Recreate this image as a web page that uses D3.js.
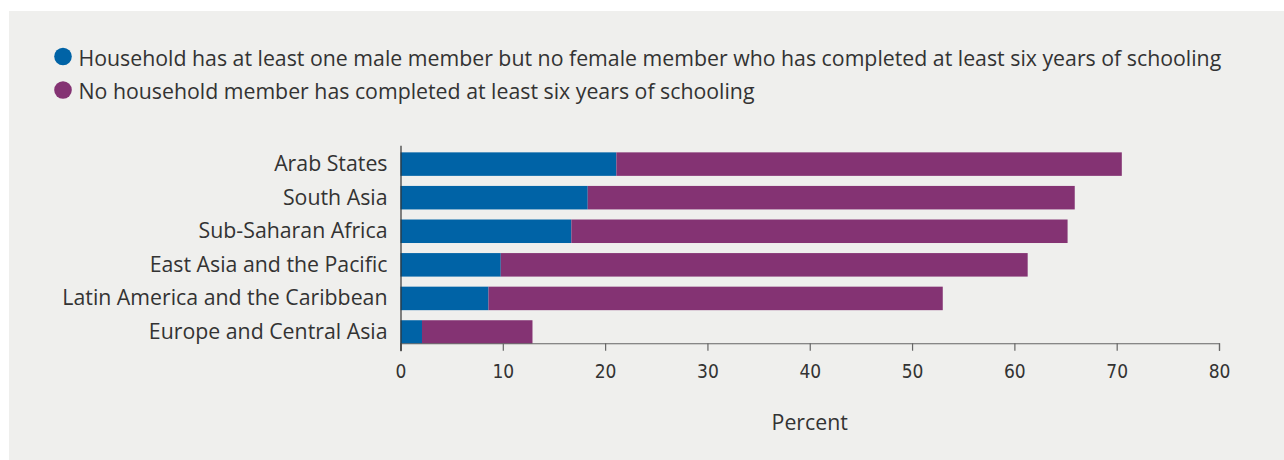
<!DOCTYPE html>
<html>
<head>
<meta charset="utf-8">
<script src="https://cdn.jsdelivr.net/npm/d3@7"></script>
<style>
  body { margin: 0; background: #fff; }
  svg text { fill: #333; }
  .lbl { font-family: "Open Sans", sans-serif; font-size: 21.3px; }
  .tick text.num { font-family: "DejaVu Sans Condensed", "DejaVu Sans", sans-serif; font-stretch: condensed; font-size: 19px; fill: #333; }
</style>
</head>
<body>
<div id="chart"></div>
<script>
// Data
const regions = ["Arab States", "South Asia", "Sub-Saharan Africa", "East Asia and the Pacific", "Latin America and the Caribbean", "Europe and Central Asia"];
const maleOnly = [21.1, 18.3, 16.7, 9.8, 8.6, 2.1];       // blue segment
const noMember = [49.4, 47.6, 48.5, 51.5, 44.4, 10.8];    // purple segment
const xTicks = [0, 10, 20, 30, 40, 50, 60, 70, 80];
const seriesNames = [
  "Household has at least one male member but no female member who has completed at least six years of schooling",
  "No household member has completed at least six years of schooling"
];
const colors = ["#0063a6", "#843373"];

const W = 1284, H = 460;
const svg = d3.select('#chart').append('svg').attr('width', W).attr('height', H);

svg.append('rect').attr('x', 9).attr('y', 11).attr('width', W - 9).attr('height', H - 11).attr('fill', '#efefed');

const x = d3.scaleLinear().domain([0, 80]).range([400.5, 1219]);
const y = d3.scaleBand().domain(regions).range([145.3, 350.8]).paddingInner(0.3).paddingOuter(0.21);

const rows = regions.map((r, i) => ({ region: r, a: maleOnly[i], b: noMember[i] }));

// bars
const g = svg.append('g');
g.selectAll('rect.a').data(rows).enter().append('rect')
  .attr('x', x(0)).attr('y', d => y(d.region))
  .attr('width', d => x(d.a) - x(0)).attr('height', y.bandwidth())
  .attr('fill', colors[0]);
g.selectAll('rect.b').data(rows).enter().append('rect')
  .attr('x', d => x(d.a)).attr('y', d => y(d.region))
  .attr('width', d => x(d.a + d.b) - x(d.a)).attr('height', y.bandwidth())
  .attr('fill', colors[1]);

// x axis
const axisY = y(regions[regions.length - 1]) + y.bandwidth() - 0.5;
const xAxis = svg.append('g').attr('transform', `translate(0,${axisY})`)
  .call(d3.axisBottom(x).tickValues(xTicks).tickSize(7.5).tickSizeOuter(7.5).tickPadding(14));
xAxis.select('.domain').attr('stroke', '#666').attr('stroke-width', 1.2);
xAxis.selectAll('.tick line').attr('stroke', '#666').attr('stroke-width', 1.2);
xAxis.selectAll('.tick text').attr('class', 'num');

// y axis
const yAxis = svg.append('g').attr('transform', `translate(${x(0)},0)`)
  .call(d3.axisLeft(y).tickSize(0).tickSizeOuter(0).tickPadding(13));
yAxis.select('.domain').attr('stroke', '#333').attr('stroke-width', 1.2);
yAxis.selectAll('.tick text').attr('class', 'lbl').attr('fill', '#333');

// axis title
svg.append('text').attr('class', 'lbl').attr('x', (x(0) + x(80)) / 2).attr('y', 429.5)
  .attr('text-anchor', 'middle').text('Percent');

// legend
const leg = svg.selectAll('g.leg').data(seriesNames).enter().append('g')
  .attr('transform', (d, i) => `translate(63,${56.5 + i * 33.5})`);
leg.append('circle').attr('r', 8.8).attr('fill', (d, i) => colors[i]);
leg.append('text').attr('class', 'lbl').attr('x', 15.5).attr('y', 9).text(d => d);
</script>
</body>
</html>
